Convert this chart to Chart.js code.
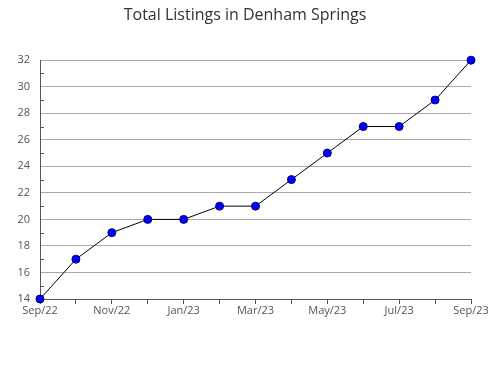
<!DOCTYPE html>
<html>
<head>
<meta charset="utf-8">
<script src="https://cdn.jsdelivr.net/npm/chart.js@4"></script>
<style>
html,body{margin:0;padding:0;background:#fff;}
#wrap{width:490px;height:380px;position:relative;}
</style>
</head>
<body>
<div id="wrap"><canvas id="c" width="490" height="380"></canvas></div>
<script>
const months = ['Sep/22','Oct/22','Nov/22','Dec/22','Jan/23','Feb/23','Mar/23','Apr/23','May/23','Jun/23','Jul/23','Aug/23','Sep/23'];
const listings = [14,17,19,20,20,21,21,23,25,27,27,29,32];
const yMin = 14, yMax = 32;

const minorTicks = {
  id:'minorTicks',
  afterDraw(chart){
    const y = chart.scales.y, ctx = chart.ctx, x0 = chart.chartArea.left;
    ctx.save();
    ctx.strokeStyle = '#555';
    ctx.lineWidth = 1;
    for(let v=yMin+1; v<yMax; v+=2){
      const py = Math.round(y.getPixelForValue(v))+0.5;
      ctx.beginPath(); ctx.moveTo(x0, py); ctx.lineTo(x0+4, py); ctx.stroke();
    }
    ctx.restore();
  }
};

new Chart(document.getElementById('c'), {
  type:'line',
  data:{labels:months, datasets:[{
    data:listings,
    borderColor:'#000',
    borderWidth:1,
    tension:0,
    pointRadius:4,
    pointHoverRadius:4,
    pointBackgroundColor:'#0000ff',
    pointBorderColor:'#000066',
    pointBorderWidth:1,
    clip:false
  }]},
  options:{
    responsive:false,
    animation:false,
    events:[],
    layout:{padding:0},
    plugins:{
      legend:{display:false},
      tooltip:{enabled:false},
      title:{display:true,text:'Total Listings in Denham Springs',color:'#333',
        font:{family:'Open Sans',size:16,weight:'normal'},padding:{top:6,bottom:35}}
    },
    scales:{
      x:{
        offset:false,
        afterFit(s){ s.height = 81; },
        grid:{display:true,drawOnChartArea:false,drawTicks:true,tickLength:5,color:'#555'},
        border:{display:true,color:'#555'},
        ticks:{autoSkip:false,maxRotation:0,padding:0,color:'#555',
          font:{family:'Open Sans',size:11},
          callback:(v,i)=> i%2===0 ? months[i] : ''}
      },
      y:{
        min:yMin,max:yMax,
        afterFit(s){ s.width = 40; },
        grid:{color:'#aaa',drawTicks:false},
        border:{display:true,color:'#555'},
        ticks:{stepSize:2,padding:10,color:'#555',font:{family:'Open Sans',size:11}}
      },
      yr:{
        position:'right',
        min:yMin,max:yMax,
        afterFit(s){ s.width = 19; },
        grid:{display:false},
        border:{display:false},
        ticks:{display:false}
      }
    }
  },
  plugins:[minorTicks]
});
</script>
</body>
</html>
